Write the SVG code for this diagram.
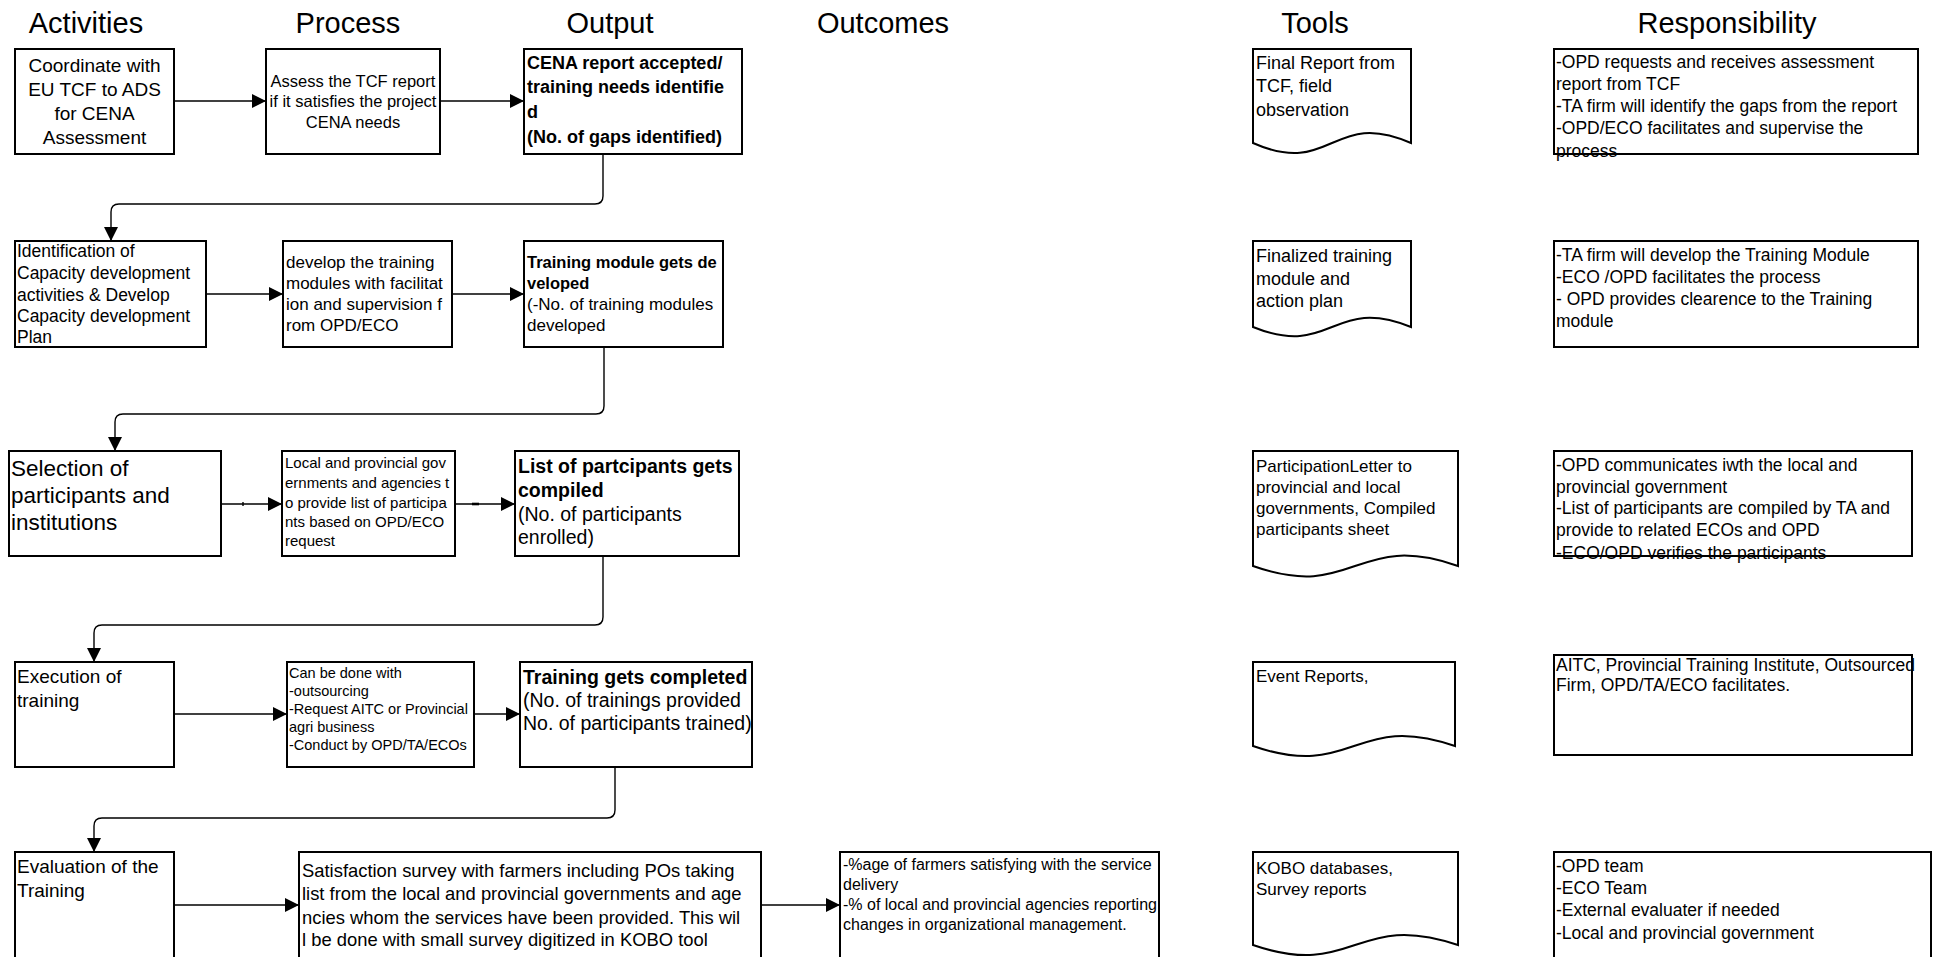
<svg xmlns="http://www.w3.org/2000/svg" width="1937" height="957" viewBox="0 0 1937 957">
  <style>
    .bg { fill: #fff; }
    .box { fill: #fff; stroke: #000; stroke-width: 2; }
    .doc { fill: #fff; stroke: #000; stroke-width: 2; stroke-linejoin: miter; }
    .t { font-family: "Liberation Sans", Arial, sans-serif; fill: #000; }
    .hd { font-size: 29px; text-anchor: middle; }
    .b { font-weight: bold; }
    .c { text-anchor: middle; }
    .conn { fill: none; stroke: #000; stroke-width: 1.4; }
  </style>
  <defs>
    <marker id="arr" viewBox="0 0 10 10" refX="10" refY="5" markerWidth="14" markerHeight="14" markerUnits="userSpaceOnUse" orient="auto">
      <path d="M0,0 L10,5 L0,10 Z" fill="#000"/>
    </marker>
  </defs>

  <rect class="bg" x="0" y="0" width="1937" height="957"/>

  <!-- column headings -->
  <g id="headers" class="t hd">
    <text x="86" y="33">Activities</text>
    <text x="348" y="33">Process</text>
    <text x="610" y="33">Output</text>
    <text x="883" y="33">Outcomes</text>
    <text x="1315" y="33">Tools</text>
    <text x="1727" y="33">Responsibility</text>
  </g>

  <!-- connectors -->
  <g id="connectors" class="conn">
    <!-- row 1 -->
    <line x1="174" y1="101" x2="266" y2="101" marker-end="url(#arr)"/>
    <line x1="440" y1="101" x2="524" y2="101" marker-end="url(#arr)"/>
    <path d="M603,154 V196 Q603,204 595,204 H119 Q111,204 111,212 V241" marker-end="url(#arr)"/>
    <!-- row 2 -->
    <line x1="206" y1="294" x2="283" y2="294" marker-end="url(#arr)"/>
    <line x1="452" y1="294" x2="524" y2="294" marker-end="url(#arr)"/>
    <path d="M604,347 V406 Q604,414 596,414 H123 Q115,414 115,422 V451" marker-end="url(#arr)"/>
    <!-- row 3 -->
    <line x1="221" y1="504" x2="282" y2="504" marker-end="url(#arr)"/>
    <line x1="243" y1="502" x2="243" y2="506"/>
    <line x1="455" y1="504" x2="515" y2="504" marker-end="url(#arr)"/>
    <line x1="472" y1="504" x2="479" y2="504" stroke-width="2.6"/>
    <path d="M603,556 V617 Q603,625 595,625 H102 Q94,625 94,633 V662" marker-end="url(#arr)"/>
    <!-- row 4 -->
    <line x1="174" y1="714" x2="287" y2="714" marker-end="url(#arr)"/>
    <line x1="474" y1="714" x2="520" y2="714" marker-end="url(#arr)"/>
    <path d="M615,767 V810 Q615,818 607,818 H102 Q94,818 94,826 V852" marker-end="url(#arr)"/>
    <!-- row 5 -->
    <line x1="174" y1="905" x2="299" y2="905" marker-end="url(#arr)"/>
    <line x1="761" y1="905" x2="840" y2="905" marker-end="url(#arr)"/>
  </g>

  <!-- row 1 -->
  <g id="act1">
    <rect class="box" x="15" y="49" width="159" height="105"/>
    <text class="t c" font-size="19"><tspan x="94.5" y="72">Coordinate with</tspan><tspan x="94.5" y="96">EU TCF to ADS</tspan><tspan x="94.5" y="120">for CENA</tspan><tspan x="94.5" y="144">Assessment</tspan></text>
  </g>
  <g id="proc1">
    <rect class="box" x="266" y="49" width="174" height="105"/>
    <text class="t c" font-size="16.5"><tspan x="353" y="87">Assess the TCF report</tspan><tspan x="353" y="107">if it satisfies the project</tspan><tspan x="353" y="128">CENA needs</tspan></text>
  </g>
  <g id="out1">
    <rect class="box" x="524" y="49" width="218" height="105"/>
    <text class="t b" font-size="18"><tspan x="527" y="69">CENA report accepted/</tspan><tspan x="527" y="93">training needs identifie</tspan><tspan x="527" y="118">d</tspan><tspan x="527" y="143">(No. of gaps identified)</tspan></text>
  </g>
  <g id="tool1">
    <path class="doc" d="M1253,143 V49 H1411 V143 C1332,108 1332,178 1253,143 Z"/>
    <text class="t" font-size="18"><tspan x="1256" y="69">Final Report from</tspan><tspan x="1256" y="92">TCF, field</tspan><tspan x="1256" y="116">observation</tspan></text>
  </g>
  <g id="resp1">
    <rect class="box" x="1554" y="49" width="364" height="105"/>
    <text class="t" font-size="17.5"><tspan x="1556" y="68">-OPD requests and receives assessment</tspan><tspan x="1556" y="90">report from TCF</tspan><tspan x="1556" y="112">-TA firm will identify the gaps from the report</tspan><tspan x="1556" y="134">-OPD/ECO facilitates and supervise the</tspan><tspan x="1556" y="157">process</tspan></text>
  </g>

  <!-- row 2 -->
  <g id="act2">
    <rect class="box" x="15" y="241" width="191" height="106"/>
    <text class="t" font-size="17.5"><tspan x="17" y="257">Identification of</tspan><tspan x="17" y="279">Capacity development</tspan><tspan x="17" y="301">activities &amp; Develop</tspan><tspan x="17" y="322">Capacity development</tspan><tspan x="17" y="343">Plan</tspan></text>
  </g>
  <g id="proc2">
    <rect class="box" x="283" y="241" width="169" height="106"/>
    <text class="t" font-size="17"><tspan x="286" y="268">develop the training</tspan><tspan x="286" y="289">modules with facilitat</tspan><tspan x="286" y="310">ion and supervision f</tspan><tspan x="286" y="331">rom OPD/ECO</tspan></text>
  </g>
  <g id="out2">
    <rect class="box" x="524" y="241" width="199" height="106"/>
    <text class="t" font-size="17"><tspan class="b" x="527" y="268" font-size="16.5">Training module gets de</tspan><tspan class="b" x="527" y="289" font-size="16.5">veloped</tspan><tspan x="527" y="310">(-No. of training modules</tspan><tspan x="527" y="331">developed</tspan></text>
  </g>
  <g id="tool2">
    <path class="doc" d="M1253,327 V241 H1411 V327 C1332,295 1332,359 1253,327 Z"/>
    <text class="t" font-size="18"><tspan x="1256" y="262">Finalized training</tspan><tspan x="1256" y="285">module and</tspan><tspan x="1256" y="307">action plan</tspan></text>
  </g>
  <g id="resp2">
    <rect class="box" x="1554" y="241" width="364" height="106"/>
    <text class="t" font-size="17.5"><tspan x="1556" y="261">-TA firm will develop the Training Module</tspan><tspan x="1556" y="283">-ECO /OPD facilitates the process</tspan><tspan x="1556" y="305">- OPD provides clearence to the Training</tspan><tspan x="1556" y="327">module</tspan></text>
  </g>

  <!-- row 3 -->
  <g id="act3">
    <rect class="box" x="9" y="451" width="212" height="105"/>
    <text class="t" font-size="22.5"><tspan x="11" y="476">Selection of</tspan><tspan x="11" y="503">participants and</tspan><tspan x="11" y="530">institutions</tspan></text>
  </g>
  <g id="proc3">
    <rect class="box" x="282" y="451" width="173" height="105"/>
    <text class="t" font-size="15"><tspan x="285" y="468">Local and provincial gov</tspan><tspan x="285" y="488">ernments and agencies t</tspan><tspan x="285" y="508">o provide list of participa</tspan><tspan x="285" y="527">nts based on OPD/ECO</tspan><tspan x="285" y="546">request</tspan></text>
  </g>
  <g id="out3">
    <rect class="box" x="515" y="451" width="224" height="105"/>
    <text class="t" font-size="19.5"><tspan class="b" x="518" y="473">List of partcipants gets</tspan><tspan class="b" x="518" y="497">compiled</tspan><tspan x="518" y="521">(No. of participants</tspan><tspan x="518" y="544">enrolled)</tspan></text>
  </g>
  <g id="tool3">
    <path class="doc" d="M1253,566 V451 H1458 V566 C1355,530 1355,602 1253,566 Z"/>
    <text class="t" font-size="17"><tspan x="1256" y="472">ParticipationLetter to</tspan><tspan x="1256" y="493">provincial and local</tspan><tspan x="1256" y="514">governments, Compiled</tspan><tspan x="1256" y="535">participants sheet</tspan></text>
  </g>
  <g id="resp3">
    <rect class="box" x="1554" y="451" width="358" height="105"/>
    <text class="t" font-size="17.5"><tspan x="1556" y="471">-OPD communicates iwth the local and</tspan><tspan x="1556" y="493">provincial government</tspan><tspan x="1556" y="514">-List of participants are compiled by TA and</tspan><tspan x="1556" y="536">provide to related ECOs and OPD</tspan><tspan x="1556" y="559">-ECO/OPD verifies the participants</tspan></text>
  </g>

  <!-- row 4 -->
  <g id="act4">
    <rect class="box" x="15" y="662" width="159" height="105"/>
    <text class="t" font-size="19"><tspan x="17" y="683">Execution of</tspan><tspan x="17" y="707">training</tspan></text>
  </g>
  <g id="proc4">
    <rect class="box" x="287" y="662" width="187" height="105"/>
    <text class="t" font-size="14.5"><tspan x="289" y="678">Can be done with</tspan><tspan x="289" y="696">-outsourcing</tspan><tspan x="289" y="714">-Request AITC or Provincial</tspan><tspan x="289" y="732">agri business</tspan><tspan x="289" y="750">-Conduct by OPD/TA/ECOs</tspan></text>
  </g>
  <g id="out4">
    <rect class="box" x="520" y="662" width="232" height="105"/>
    <text class="t" font-size="19.5"><tspan class="b" x="523" y="684">Training gets completed</tspan><tspan x="523" y="707">(No. of trainings provided</tspan><tspan x="523" y="730">No. of participants trained)</tspan></text>
  </g>
  <g id="tool4">
    <path class="doc" d="M1253,746 V662 H1455 V746 C1354,711 1354,781 1253,746 Z"/>
    <text class="t" font-size="17"><tspan x="1256" y="682">Event Reports,</tspan></text>
  </g>
  <g id="resp4">
    <rect class="box" x="1554" y="655" width="358" height="100"/>
    <text class="t" font-size="17.5"><tspan x="1556" y="671">AITC, Provincial Training Institute, Outsourced</tspan><tspan x="1556" y="691">Firm, OPD/TA/ECO facilitates.</tspan></text>
  </g>

  <!-- row 5 -->
  <g id="act5">
    <rect class="box" x="15" y="852" width="159" height="120"/>
    <text class="t" font-size="19"><tspan x="17" y="873">Evaluation of the</tspan><tspan x="17" y="897">Training</tspan></text>
  </g>
  <g id="proc5">
    <rect class="box" x="299" y="852" width="462" height="120"/>
    <text class="t" font-size="18.4"><tspan x="302" y="877">Satisfaction survey with farmers including POs taking</tspan><tspan x="302" y="900">list from the local and provincial governments and age</tspan><tspan x="302" y="924">ncies whom the services have been provided. This wil</tspan><tspan x="302" y="946">l be done with small survey digitized in KOBO tool</tspan></text>
  </g>
  <g id="outcome5">
    <rect class="box" x="840" y="852" width="319" height="120"/>
    <text class="t" font-size="16"><tspan x="843" y="870">-%age of farmers satisfying with the service</tspan><tspan x="843" y="890">delivery</tspan><tspan x="843" y="910">-% of local and provincial agencies reporting</tspan><tspan x="843" y="930">changes in organizational management.</tspan></text>
  </g>
  <g id="tool5">
    <path class="doc" d="M1253,945 V852 H1458 V945 C1355,910 1355,980 1253,945 Z"/>
    <text class="t" font-size="17"><tspan x="1256" y="874">KOBO databases,</tspan><tspan x="1256" y="895">Survey reports</tspan></text>
  </g>
  <g id="resp5">
    <rect class="box" x="1554" y="852" width="377" height="120"/>
    <text class="t" font-size="17.5"><tspan x="1556" y="872">-OPD  team</tspan><tspan x="1556" y="894">-ECO Team</tspan><tspan x="1556" y="916">-External evaluater if needed</tspan><tspan x="1556" y="939">-Local and provincial government</tspan></text>
  </g>
</svg>
